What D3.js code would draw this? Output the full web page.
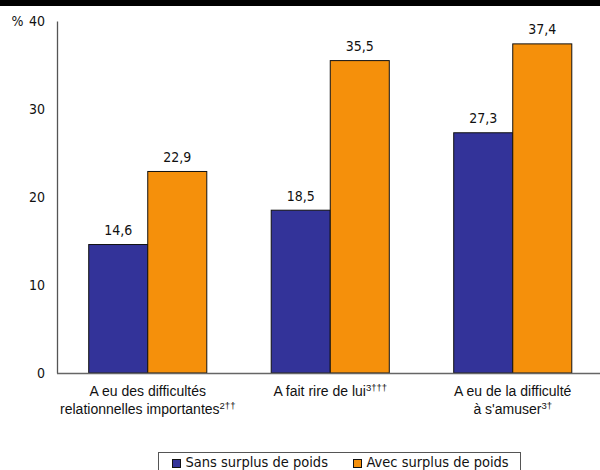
<!DOCTYPE html>
<html><head><meta charset="utf-8">
<script src="https://cdn.jsdelivr.net/npm/d3@7"></script>
<style>body{margin:0;background:#fff}svg{display:block}</style>
</head><body>
<svg id="c" width="600" height="470"></svg>
<script>
const categories = ["cat1","cat2","cat3"];
const catLines = [
  [["A eu des difficultés",""],["relationnelles importantes","2††"]],
  [["A fait rire de lui","3†††"]],
  [["A eu de la difficulté",""],["à s'amuser","3†"]]
];
const seriesNames = ["Sans surplus de poids","Avec surplus de poids"];
const sansValues = [14.6, 18.5, 27.3];
const avecValues = [22.9, 35.5, 37.4];
const yTicks = [0,10,20,30,40];
const colors = ["#333399","#f5900b"];

const F1 = "'DejaVu Sans Condensed', Tahoma, sans-serif";
const F2 = "'Liberation Sans', Arial, sans-serif";

const svg = d3.select("#c");
svg.append("rect").attr("x",0).attr("y",0).attr("width",600).attr("height",6).attr("fill","#000");

const y = d3.scaleLinear().domain([0,40]).range([373,21]);
const x0 = d3.scaleBand().domain(categories).range([56.5,604]).paddingInner(0.353).paddingOuter(0.1765);
const x1 = d3.scaleBand().domain([0,1]).range([0,x0.bandwidth()]);
const series = [sansValues, avecValues];
const fmt = v => d3.format(".1f")(v).replace(".",",");

// bars
series.forEach((vals,si)=>{
  svg.append("g").selectAll("rect").data(vals).join("rect")
    .attr("x",(d,i)=>x0(categories[i])+x1(si))
    .attr("y",d=>y(d))
    .attr("width",x1.bandwidth())
    .attr("height",d=>y(0)-y(d))
    .attr("fill",colors[si]).attr("stroke","#111").attr("stroke-width",1);
  svg.append("g").selectAll("text").data(vals).join("text")
    .attr("x",(d,i)=>x0(categories[i])+x1(si)+x1.bandwidth()/2)
    .attr("y",d=>y(d)-9.5)
    .attr("text-anchor","middle")
    .attr("font-family",F1).attr("font-size",14)
    .attr("fill","#111").text(d=>fmt(d));
});

// y axis
const yAxis = d3.axisLeft(y).tickValues(yTicks).tickSize(0).tickPadding(12).tickFormat(d=>d);
const gy = svg.append("g").attr("transform","translate(57,0)").call(yAxis);
gy.select(".domain").attr("stroke","#555").attr("stroke-width",1.3);
gy.selectAll("text").attr("font-family",F1).attr("font-size",14).attr("fill","#111");
svg.append("text").attr("x",11.5).attr("y",y(40)+5)
  .attr("font-family",F1).attr("font-size",14).attr("fill","#111").text("%");

// x axis
const xAxis = d3.axisBottom(x0).tickSize(0).tickFormat("");
const gx = svg.append("g").attr("transform",`translate(0,${y(0)})`).call(xAxis);
gx.select(".domain").attr("stroke","#666").attr("stroke-width",1.3);

// category labels
categories.forEach((c,i)=>{
  const cx = x0(c)+x0.bandwidth()/2;
  catLines[i].forEach((ln,li)=>{
    const t = svg.append("text").attr("x",cx).attr("y",396+li*18)
      .attr("text-anchor","middle")
      .attr("font-family",F2).attr("font-size",14).attr("fill","#111");
    t.append("tspan").text(ln[0]);
    if(ln[1]) t.append("tspan").attr("dy",-5.5).attr("font-size",9.5).text(ln[1]);
  });
});

// legend
const lg = svg.append("g");
lg.append("rect").attr("x",158.5).attr("y",452.5).attr("width",362).attr("height",30)
  .attr("fill","#fff").attr("stroke","#555").attr("stroke-width",1);
const legX = [172, 353];
seriesNames.forEach((n,i)=>{
  lg.append("rect").attr("x",legX[i]+0.5).attr("y",459.5).attr("width",8).attr("height",8)
    .attr("fill",colors[i]).attr("stroke","#111").attr("stroke-width",1);
  lg.append("text").attr("x",legX[i]+13.5).attr("y",467)
    .attr("font-family",F1).attr("font-size",14.5).attr("fill","#111").text(n);
});
</script>
</body></html>
